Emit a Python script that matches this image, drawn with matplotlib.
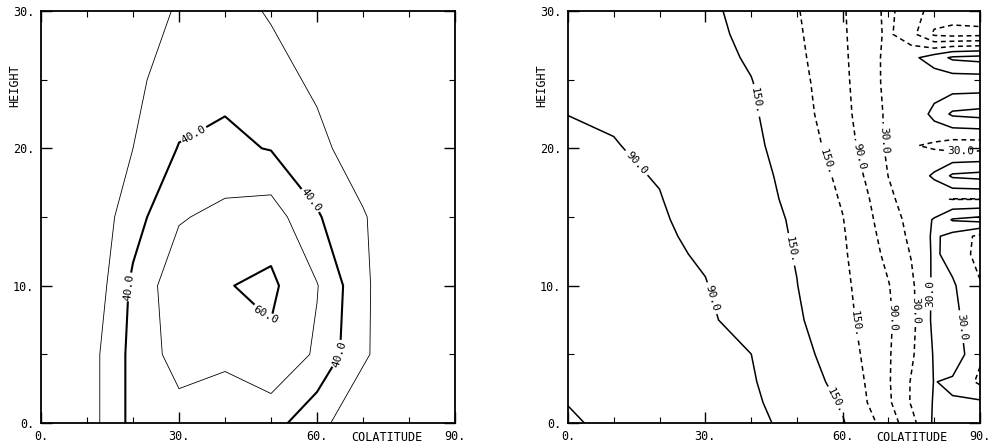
import matplotlib
matplotlib.use("Agg")
import matplotlib.pyplot as plt
import numpy as np

plt.rcParams["font.family"] = ["DejaVu Sans Mono"]
plt.rcParams["lines.dashed_pattern"] = [3.2, 2.4]

# left panel: amplitude, grid (colatitude x height)
left_colat = [0, 10, 20, 30, 40, 50, 60, 70, 80, 90]
left_height = [0, 5, 10, 15, 20, 25, 30]
left_values = [
    [15, 25, 43, 46, 44, 44, 33, 23, 15, 10],
    [15, 25, 43, 54, 52, 58, 48.5, 31.5, 21.5, 15],
    [10, 21, 42, 57, 59.5, 62, 50.5, 32, 20, 14],
    [12, 21, 36, 49, 53, 55, 41, 31, 20, 14],
    [10, 19, 30, 40.5, 42, 39.5, 33, 24, 16, 12],
    [8, 16, 28, 34.5, 37.7, 34, 28, 21, 14, 10],
    [6, 14, 25, 31, 34, 29, 23, 17, 12, 8],
]
left_thin_levels = [30, 50]
left_levels = [40, 60]
left_label_text = {40: "40.0", 60: "60.0"}

# right panel: phase (unwrapped), grid
right_colat = [0, 10, 20, 30, 40, 50, 60, 65, 70, 75, 80, 84, 90]
right_height = [0, 1.5, 3, 5, 7.5, 10, 12.3, 13.6, 14.8, 16.3, 18, 20.2,
                22.5, 24.8, 26.6, 28.3, 30]
right_values = [
    [25, 39, 53, 66, 80, 102, 146, 187, 237, 310, 400, 420, 420],
    [31, 44, 57, 70, 83, 110, 156, 206, 260, 335, 395, 395, 400],
    [35, 48, 60, 73, 86, 118, 169, 212, 264, 334, 392, 380, 318],
    [40.5, 53, 65, 77, 89.8, 129, 182, 218, 264, 321, 395, 430, 340],
    [47.5, 59.5, 71.5, 83.5, 106, 142, 193, 224, 261, 312, 405, 405, 355],
    [55, 66, 77, 88, 117, 149, 198, 229.5, 267, 319, 402, 398, 335],
    [61.5, 71.5, 81.5, 95, 123, 153, 202, 240, 285, 333, 400, 368, 310],
    [65, 74.5, 84, 99, 126, 155, 204.5, 246, 294, 342, 400, 370, 315],
    [68.5, 77, 86, 103, 128, 157, 208, 252.5, 302, 348, 395, 455, 470],
    [72.5, 80.5, 88.5, 108.5, 132, 161.5, 215, 260, 317, 360, 340, 328, 328],
    [77.5, 84, 92, 113.5, 135, 165.5, 224, 274.5, 331, 350, 400, 460, 470],
    [84, 88, 100.5, 120, 139.5, 174, 240, 290.5, 340, 335, 320, 300, 300],
    [90.3, 95, 108, 125, 143, 184.5, 250.5, 298.5, 340, 335, 410, 460, 470],
    [95, 100, 112, 127, 148, 190, 256, 301, 345, 355, 350, 350, 350],
    [98.5, 103, 115, 131, 156, 196.5, 259.5, 302, 345, 375, 420, 460, 470],
    [101.5, 106, 118, 135, 163, 201.5, 262, 303.5, 340, 290, 200, 190, 195],
    [104, 108, 120, 138, 169, 206, 264, 305, 342, 300, 245, 240, 240],
]
right_plain_levels = [30, 450]
right_levels = [90, 150, 210, 270, 330, 390]
right_dashed = [210, 270, 330]
right_label_text = {90: "90.0", 150: "150.", 210: "150.", 270: "90.0",
                    330: "30.0", 390: "30.0"}

x_ticks = [0, 30, 60, 90]
x_tick_text = ["0.", "30.", "60.", "90."]
y_ticks = [0, 10, 20, 30]
y_tick_text = ["0.", "10.", "20.", "30."]


def style_axes(ax):
    ax.set_xlim(0, 90)
    ax.set_ylim(0, 30)
    ax.set_xticks(x_ticks)
    ax.set_xticklabels(x_tick_text)
    ax.set_xticks([10, 20, 40, 50, 70, 80], minor=True)
    ax.set_yticks(y_ticks)
    ax.set_yticklabels(y_tick_text)
    ax.set_yticks([5, 15, 25], minor=True)
    ax.tick_params(which="both", direction="in", top=True, right=True,
                   labelsize=8.5, pad=5)
    ax.tick_params(which="major", length=8, width=1)
    ax.tick_params(which="minor", length=4, width=0.8)
    for spine in ax.spines.values():
        spine.set_linewidth(1.3)
    ax.text(-0.063, 0.82, "HEIGHT", transform=ax.transAxes, rotation=90,
            ha="center", va="center", fontsize=8.5)
    ax.text(0.835, -0.034, "COLATITUDE", transform=ax.transAxes,
            ha="center", va="center", fontsize=8.5)


fig = plt.figure(figsize=(9.93, 4.47), dpi=100)
ax1 = fig.add_axes([0.0413, 0.0537, 0.4169, 0.9217])
ax2 = fig.add_axes([0.572, 0.0537, 0.4149, 0.9217])

# left panel
z1 = np.array(left_values)
ax1.contour(left_colat, left_height, z1, levels=left_thin_levels,
            colors="k", linewidths=0.6)
cs1 = ax1.contour(left_colat, left_height, z1, levels=left_levels,
                  colors="k", linewidths=1.5)
ax1.clabel(cs1, fmt=left_label_text, fontsize=8, inline=True,
           inline_spacing=1,
           manual=[(19.8, 9.9), (33.9, 20.6), (57.8, 16.0), (65.0, 5.0),
                   (49.0, 8.0)])
style_axes(ax1)

# right panel
z2 = np.array(right_values)
ax2.contour(right_colat, right_height, z2, levels=right_plain_levels,
            colors="k", linewidths=1.1)
styles = ["dashed" if lev in right_dashed else "solid" for lev in right_levels]
cs2 = ax2.contour(right_colat, right_height, z2, levels=right_levels,
                  colors="k", linewidths=1.1, linestyles=styles)
ax2.clabel(cs2, fmt=right_label_text, fontsize=8, inline=True,
           inline_spacing=3,
           manual=[(16.5, 19.4), (32.6, 9.2),
                   (41.3, 23.5), (49.7, 12.7), (59.1, 1.7),
                   (57.3, 19.1), (63.1, 7.2),
                   (63.5, 19.4), (71.2, 7.7),
                   (68.6, 20.6), (76.6, 8.2), (85.7, 19.8),
                   (79.9, 9.4), (85.6, 7.0)])
style_axes(ax2)

fig.savefig("out.png", dpi=100)
